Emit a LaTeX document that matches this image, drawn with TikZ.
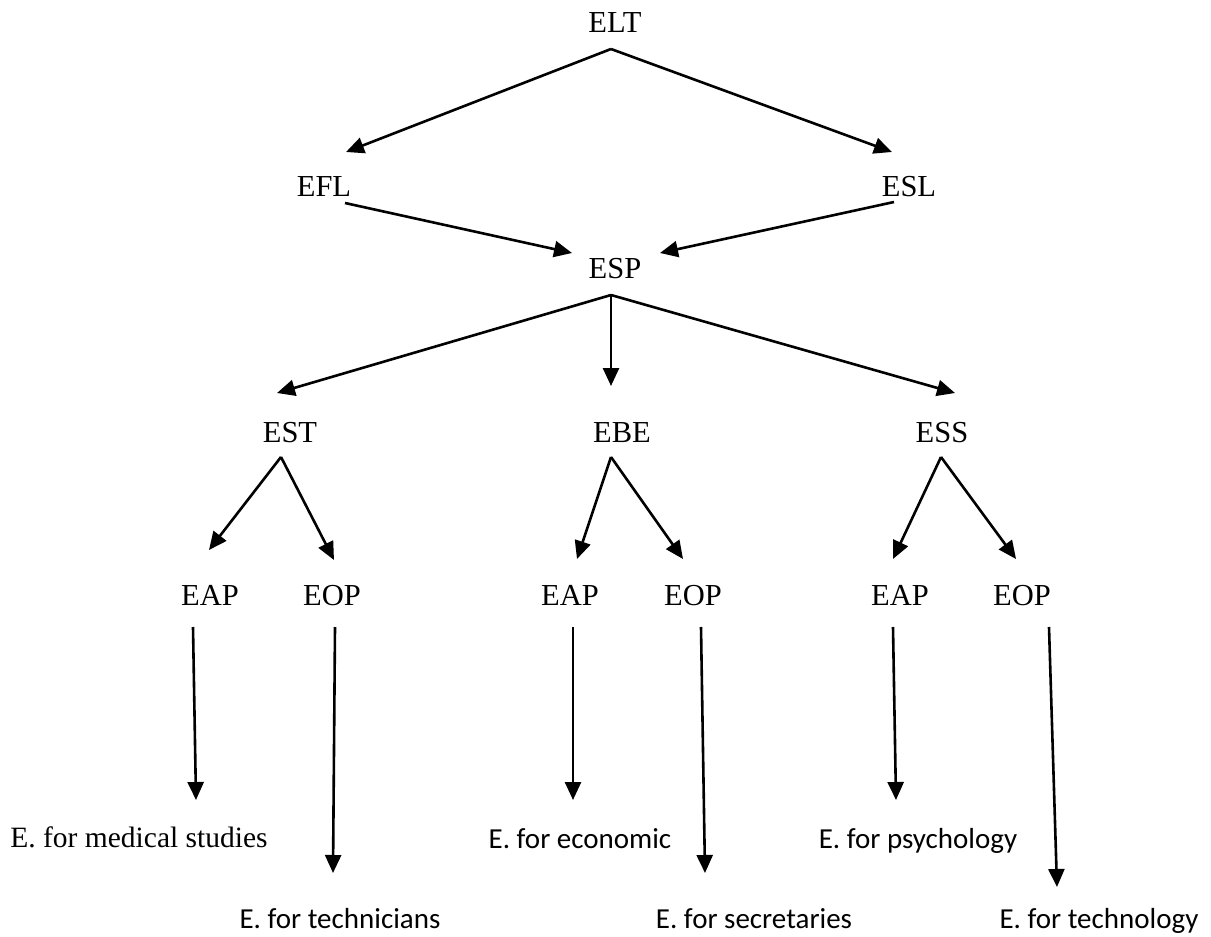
\documentclass[tikz,border=0pt]{standalone}
\usepackage{fontspec}
\setmainfont{Liberation Serif}
\newfontfamily\calfont{Carlito}
\usetikzlibrary{arrows.meta,calc}
\begin{document}
\begin{tikzpicture}[x=1pt,y=-1pt,
  term/.style={inner sep=0pt,anchor=base,font=\fontsize{30.5}{36}\selectfont},
  leaf/.style={inner sep=0pt,anchor=base,font=\calfont\fontsize{29}{35}\selectfont},
  arr/.style={line width=2.6pt,-{Triangle[length=18pt,width=16pt]}}]
\useasboundingbox (0,0) rectangle (1211,937);
% tree levels
\node[term] (elt) at (615,32) {ELT};
\node[term] (efl) at (324,196) {EFL};
\node[term] (esl) at (909,196) {ESL};
\node[term] (esp) at (615,278) {ESP};
\node[term] (est) at (290,442) {EST};
\node[term] (ebe) at (622,442) {EBE};
\node[term] (ess) at (942,442) {ESS};
\node[term] (eapa) at (210,605) {EAP};
\node[term] (eopa) at (332,605) {EOP};
\node[term] (eapb) at (570,605) {EAP};
\node[term] (eopb) at (693,605) {EOP};
\node[term] (eapc) at (900,605) {EAP};
\node[term] (eopc) at (1022,605) {EOP};
% leaves
\node[term,font=\fontsize{29.5}{35}\selectfont] (med) at (139,847) {E. for medical studies};
\node[leaf] (tech) at (340,928) {E. for technicians};
\node[leaf] (econ) at (580,848) {E. for economic};
\node[leaf] (secr) at (754,928) {E. for secretaries};
\node[leaf] (psy) at (918,848) {E. for psychology};
\node[leaf] (techno) at (1099,928) {E. for technology};
% connectors
\draw[arr] ($(elt.base)+(-4,17)$) -- ($(efl.base)+(22,-44)$);
\draw[arr] ($(elt.base)+(-4,17)$) -- ($(esl.base)+(-17,-44)$);
\draw[arr] ($(efl.base)+(21,7)$) -- ($(esp.base)+(-43,-25)$);
\draw[arr] ($(esl.base)+(-15,6)$) -- ($(esp.base)+(45,-25)$);
\draw[arr] ($(esp.base)+(-4,17)$) -- ($(est.base)+(-13,-49)$);
\draw[arr] ($(esp.base)+(-4,17)$) -- ($(ebe.base)+(-11,-56)$);
\draw[arr] ($(esp.base)+(-4,17)$) -- ($(ess.base)+(13,-49)$);
\draw[arr] ($(est.base)+(-9,15)$) -- ($(eapa.base)+(-1,-55)$);
\draw[arr] ($(est.base)+(-9,15)$) -- ($(eopa.base)+(2,-45)$);
\draw[arr] ($(ebe.base)+(-11,15)$) -- ($(eapb.base)+(7,-46)$);
\draw[arr] ($(ebe.base)+(-11,15)$) -- ($(eopb.base)+(-10,-46)$);
\draw[arr] ($(ess.base)+(-1,15)$) -- ($(eapc.base)+(-7,-46)$);
\draw[arr] ($(ess.base)+(-1,15)$) -- ($(eopc.base)+(-6,-46)$);
\draw[arr] ($(eapa.base)+(-17,22)$) -- ($(med.base)+(57,-47)$);
\draw[arr] ($(eopa.base)+(3,22)$) -- ($(tech.base)+(-7,-55)$);
\draw[arr] ($(eapb.base)+(3,22)$) -- ($(econ.base)+(-7,-48)$);
\draw[arr] ($(eopb.base)+(8,22)$) -- ($(secr.base)+(-49,-55)$);
\draw[arr] ($(eapc.base)+(-7,22)$) -- ($(psy.base)+(-22,-48)$);
\draw[arr] ($(eopc.base)+(27,22)$) -- ($(techno.base)+(-42,-41)$);
\end{tikzpicture}
\end{document}
